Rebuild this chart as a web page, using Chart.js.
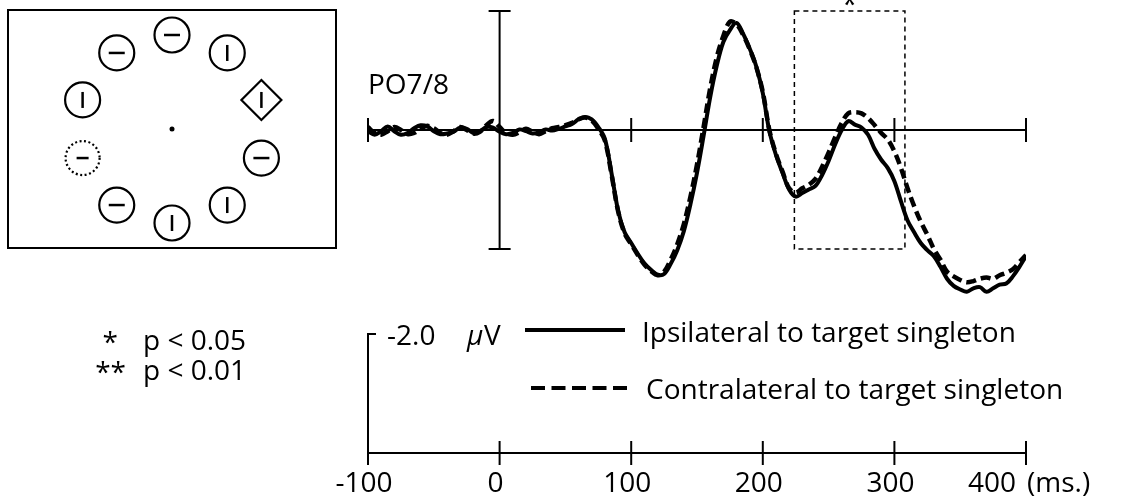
<!DOCTYPE html>
<html>
<head>
<meta charset="utf-8">
<script src="https://cdn.jsdelivr.net/npm/chart.js@4.4.1/dist/chart.umd.min.js"></script>
<style>
  body { margin: 0; background: #fff; }
  #wrap { width: 1128px; height: 501px; position: relative; }
</style>
</head>
<body>
<div id="wrap"><canvas id="chart"></canvas></div>
<script>
'use strict';

// time points (ms)
let times = [-100, -95, -90, -85, -80, -75, -70, -65, -60, -55,
  -50, -45, -40, -35, -30, -25, -20, -15, -10, -5,
  0, 5, 10, 15, 20, 25, 30, 35, 40, 45,
  50, 55, 60, 65, 70, 75, 80, 85, 90, 95,
  100, 105, 110, 115, 120, 125, 130, 135, 140, 145,
  150, 155, 160, 165, 170, 175, 180, 185, 190, 195,
  200, 205, 210, 215, 220, 225, 230, 235, 240, 245,
  250, 255, 260, 265, 270, 275, 280, 285, 290, 295,
  300, 305, 310, 315, 320, 325, 330, 335, 340, 345,
  350, 355, 360, 365, 370, 375, 380, 385, 390, 395,
  400];

// amplitude (microvolts), negative plotted up
let ipsilateral = [0.02, 0.08, 0.02, -0.06, 0.02, 0.08, 0.05, -0.03, -0.08, -0.06,
  0.02, 0.07, 0.06, 0.03, -0.04, -0.02, 0.05, 0.02, -0.05, -0.04,
  0.03, 0.07, 0.05, -0.01, 0.02, 0.06, 0.04, -0.01, 0.01, -0.02,
  -0.06, -0.10, -0.18, -0.22, -0.18, -0.05, 0.15, 0.72, 1.35, 1.72,
  1.90, 2.08, 2.24, 2.35, 2.43, 2.42, 2.25, 2.02, 1.70, 1.25,
  0.72, 0.10, -0.55, -1.08, -1.48, -1.68, -1.80, -1.62, -1.37, -1.07,
  -0.62, 0.02, 0.42, 0.72, 1.00, 1.12, 1.06, 1.00, 0.94, 0.76,
  0.52, 0.24, 0.00, -0.15, -0.09, -0.04, 0.08, 0.32, 0.50, 0.64,
  0.86, 1.20, 1.52, 1.72, 1.90, 2.02, 2.12, 2.30, 2.50, 2.62,
  2.68, 2.72, 2.66, 2.64, 2.72, 2.66, 2.60, 2.58, 2.46, 2.30,
  2.12];

let contralateral = [-0.05, 0.05, 0.08, 0.02, -0.05, 0.00, 0.07, 0.05, -0.02, -0.07,
  -0.03, 0.05, 0.08, 0.02, -0.05, 0.00, 0.06, 0.03, -0.08, -0.15,
  -0.05, 0.05, 0.08, 0.04, -0.02, 0.03, 0.07, 0.02, -0.03, -0.05,
  -0.08, -0.12, -0.18, -0.21, -0.16, -0.02, 0.18, 0.74, 1.36, 1.74,
  1.92, 2.10, 2.26, 2.37, 2.44, 2.38, 2.18, 1.92, 1.58, 1.12,
  0.58, -0.05, -0.70, -1.22, -1.58, -1.82, -1.78, -1.60, -1.36, -1.06,
  -0.64, 0.00, 0.40, 0.70, 0.98, 1.05, 0.98, 0.92, 0.82, 0.62,
  0.38, 0.12, -0.12, -0.28, -0.30, -0.28, -0.20, -0.08, 0.05, 0.16,
  0.36, 0.64, 0.98, 1.28, 1.54, 1.76, 2.00, 2.18, 2.38, 2.46,
  2.52, 2.56, 2.54, 2.50, 2.48, 2.50, 2.44, 2.40, 2.34, 2.22,
  2.10];

let seriesNames = ['Ipsilateral to target singleton', 'Contralateral to target singleton'];
let xTicks = [-100, 0, 100, 200, 300, 400];
let sigWindow = [224, 308];   // ms, marked *
let ampBar = 2.0;             // microvolt scale bar
let pLabels = ['p < 0.05', 'p < 0.01'];
let pStars = ['*', '**'];

const FONT = '28px "Open Sans"';

function toPoints(vals) {
  let pts = [];
  for (let i = 0; i < times.length; i++) {
    pts.push({ x: times[i], y: vals[i] });
  }
  return pts;
}

function seg(ctx, x1, y1, x2, y2) {
  ctx.beginPath();
  ctx.moveTo(x1, y1);
  ctx.lineTo(x2, y2);
  ctx.stroke();
}

// search display in the upper left
function drawDisplay(ctx) {
  ctx.save();
  ctx.strokeStyle = '#000';
  ctx.fillStyle = '#000';
  ctx.lineWidth = 2;
  ctx.strokeRect(8, 10, 328, 238);

  let cx = 172, cy = 129, R = 94;
  // angle (deg), shape, bar orientation
  let items = [
    [90, 'c', 'h'], [54, 'c', 'v'], [18, 'd', 'v'], [-18, 'c', 'h'], [-54, 'c', 'v'],
    [-90, 'c', 'v'], [-126, 'c', 'h'], [-162, 'dot', 'h'], [162, 'c', 'v'], [126, 'c', 'h']
  ];
  items.forEach(it => {
    let a = it[0] * Math.PI / 180;
    let x = cx + R * Math.cos(a);
    let y = cy - R * Math.sin(a);
    ctx.lineWidth = 2.2;
    if (it[1] === 'c') {
      ctx.beginPath();
      ctx.arc(x, y, 17.5, 0, Math.PI * 2);
      ctx.stroke();
    } else if (it[1] === 'd') {
      ctx.beginPath();
      ctx.moveTo(x, y - 20);
      ctx.lineTo(x + 20, y);
      ctx.lineTo(x, y + 20);
      ctx.lineTo(x - 20, y);
      ctx.closePath();
      ctx.stroke();
    } else {
      ctx.setLineDash([2, 2.5]);
      ctx.beginPath();
      ctx.arc(x, y, 17, 0, Math.PI * 2);
      ctx.stroke();
      ctx.setLineDash([]);
    }
    ctx.lineWidth = 2.5;
    let half = it[1] === 'dot' ? 6 : 8;
    if (it[2] === 'h') seg(ctx, x - half, y, x + half, y);
    else seg(ctx, x, y - half, x, y + half);
  });
  ctx.beginPath();
  ctx.arc(cx, cy, 2.5, 0, Math.PI * 2);
  ctx.fill();
  ctx.restore();
}

const erpAxes = {
  id: 'erpAxes',
  beforeDatasetsDraw(chart) {
    const { ctx, scales: { x, y } } = chart;
    ctx.save();
    ctx.strokeStyle = '#000';
    ctx.lineWidth = 2;
    let y0 = y.getPixelForValue(0);
    let xl = x.getPixelForValue(xTicks[0]);
    let xr = x.getPixelForValue(xTicks[xTicks.length - 1]);
    seg(ctx, xl, y0, xr, y0);
    xTicks.forEach(t => {
      if (t === 0) return;
      let px = x.getPixelForValue(t);
      seg(ctx, px, y0 - 12, px, y0 + 12);
    });
    // amplitude axis at 0 ms
    let x0 = x.getPixelForValue(0);
    let yt = y.getPixelForValue(-ampBar);
    let yb = y.getPixelForValue(ampBar);
    seg(ctx, x0, yt, x0, yb);
    seg(ctx, x0 - 11, yt, x0 + 11, yt);
    seg(ctx, x0 - 11, yb, x0 + 11, yb);

    // significance window
    ctx.lineWidth = 1.5;
    ctx.setLineDash([5, 4]);
    let sx1 = x.getPixelForValue(sigWindow[0]);
    let sx2 = x.getPixelForValue(sigWindow[1]);
    ctx.strokeRect(sx1, yt, sx2 - sx1, yb - yt);
    ctx.setLineDash([]);
    ctx.restore();
  },
  afterDraw(chart) {
    const { ctx, scales: { x, y } } = chart;
    ctx.save();
    ctx.fillStyle = '#000';
    ctx.strokeStyle = '#000';
    ctx.font = FONT;
    ctx.textBaseline = 'alphabetic';

    drawDisplay(ctx);

    // channel label
    ctx.fillText('PO7/8', 368, 94);

    // star above window (cut by the top edge)
    let sx = (x.getPixelForValue(sigWindow[0]) + x.getPixelForValue(sigWindow[1])) / 2;
    ctx.textAlign = 'center';
    ctx.fillText('*', sx, 14);
    ctx.textAlign = 'left';

    // time axis with scale bar
    let axY = 453;
    let barH = y.getPixelForValue(ampBar) - y.getPixelForValue(0);
    let xl = x.getPixelForValue(xTicks[0]);
    let xr = x.getPixelForValue(xTicks[xTicks.length - 1]);
    ctx.lineWidth = 2;
    seg(ctx, xl, axY, xr, axY);
    seg(ctx, xl, axY - barH, xl, axY + 12);
    seg(ctx, xl - 1, axY - barH, xl + 8, axY - barH);
    xTicks.slice(1).forEach(t => {
      let px = x.getPixelForValue(t);
      seg(ctx, px, axY - 12, px, axY + 12);
    });
    ctx.textAlign = 'center';
    xTicks.forEach((t, i) => {
      let px = x.getPixelForValue(t);
      if (i === xTicks.length - 1) {
        ctx.textAlign = 'right';
        ctx.fillText(String(t), px - 10, 492);
        ctx.textAlign = 'left';
        ctx.fillText('(ms.)', px + 1, 492);
      } else {
        ctx.fillText(String(t), px - 4, 492);
      }
    });
    ctx.textAlign = 'left';

    // amplitude label
    let labY = axY - barH + 11;
    ctx.fillText('-' + ampBar.toFixed(1), 387, labY);
    ctx.font = 'italic ' + FONT;
    ctx.fillText('\u03bc', 467, labY);
    ctx.font = FONT;
    ctx.fillText('V', 484, labY);

    // legend
    ctx.lineWidth = 4;
    seg(ctx, 525, 330, 625, 330);
    ctx.fillText(seriesNames[0], 642, 342);
    ctx.setLineDash([14, 6.5]);
    seg(ctx, 531, 388, 627, 388);
    ctx.setLineDash([]);
    ctx.fillText(seriesNames[1], 646, 399);

    // p-value key
    ctx.textAlign = 'right';
    ctx.fillText(pStars[0], 118, 352);
    ctx.fillText(pStars[1], 126, 382);
    ctx.textAlign = 'left';
    ctx.fillText(pLabels[0], 143, 350);
    ctx.fillText(pLabels[1], 143, 380);
    ctx.restore();
  }
};

let chartEl = document.getElementById('chart');
let pxPerUv = 59.5;
let zeroY = 130;
let areaTop = 0;
let areaBottom = 310;

new Chart(chartEl, {
  type: 'line',
  data: {
    datasets: [{
      label: seriesNames[1],
      data: toPoints(contralateral),
      borderColor: '#000',
      borderWidth: 4.5,
      borderDash: [10, 5],
      pointRadius: 0,
      tension: 0.35,
      fill: false
    },
    {
      label: seriesNames[0],
      data: toPoints(ipsilateral),
      borderColor: '#000',
      borderWidth: 4,
      pointRadius: 0,
      tension: 0.35,
      fill: false
    }]
  },
  options: {
    responsive: true,
    maintainAspectRatio: false,
    devicePixelRatio: 1,
    animation: false,
    layout: {
      padding: { left: 368, right: 102, top: areaTop, bottom: 501 - areaBottom }
    },
    plugins: {
      legend: { display: false },
      tooltip: { enabled: false }
    },
    scales: {
      x: { type: 'linear', min: -100, max: 400, display: false },
      y: {
        type: 'linear',
        reverse: true,
        min: (areaTop - zeroY) / pxPerUv,
        max: (areaBottom - zeroY) / pxPerUv,
        display: false
      }
    }
  },
  plugins: [erpAxes]
});
</script>
</body>
</html>
